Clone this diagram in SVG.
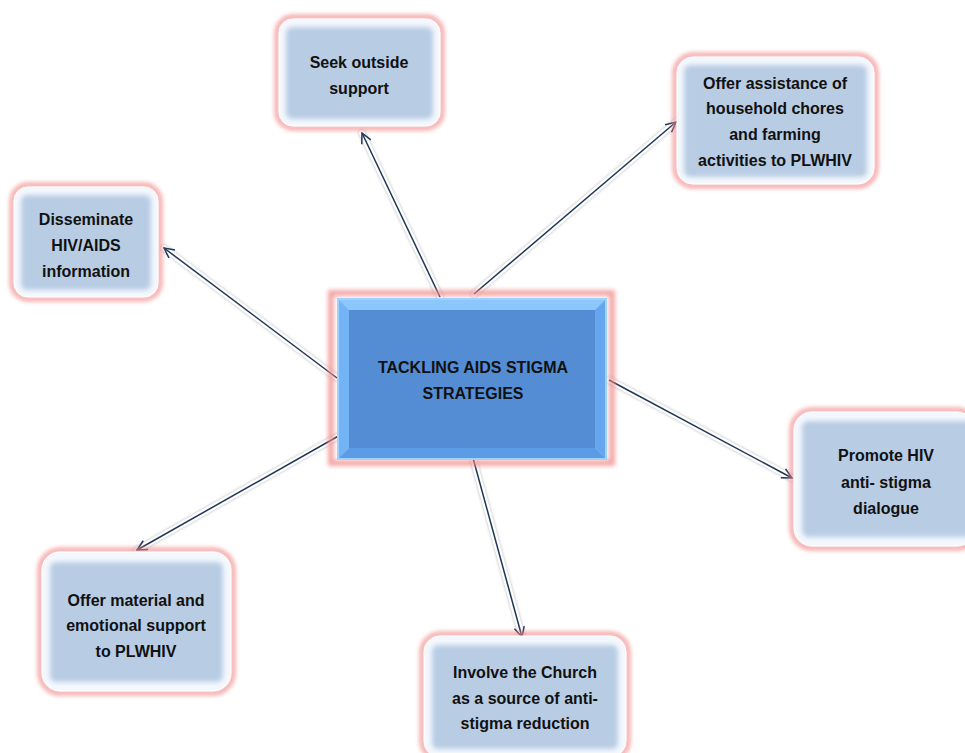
<svg xmlns="http://www.w3.org/2000/svg" width="965" height="753" viewBox="0 0 965 753">
  <defs>
    <style>
      .glow { fill: none; stroke: #f28a8a; stroke-width: 5; opacity: 0.75; filter: url(#soft); }
      .card { fill: #f4f8fd; stroke: #ffffff; stroke-width: 1; }
      .face { fill: #b8cce4; filter: url(#bevel); }
      .label { font-family: "Liberation Sans", Arial, sans-serif; font-weight: bold; font-size: 16px; fill: #111111; text-anchor: middle; }
      .halo { fill: none; stroke: #ffffff; stroke-width: 6; stroke-linecap: round; filter: url(#shade); }
      .link { fill: none; stroke: #1f3759; stroke-width: 1.5; marker-end: url(#head); }
    </style>
    <filter id="soft" x="-10%" y="-10%" width="120%" height="120%">
      <feGaussianBlur stdDeviation="2"/>
    </filter>
    <filter id="bevel" x="-10%" y="-10%" width="120%" height="120%">
      <feGaussianBlur stdDeviation="2.5"/>
    </filter>
    <filter id="shade" x="-20%" y="-20%" width="140%" height="140%">
      <feDropShadow dx="0" dy="0" stdDeviation="1.5" flood-color="#9a9a9a" flood-opacity="0.8"/>
    </filter>
    <marker id="head" viewBox="0 0 12 12" refX="11" refY="6" markerWidth="12" markerHeight="12" markerUnits="userSpaceOnUse" orient="auto">
      <path d="M1,1 L11,6 L1,11" fill="none" stroke="#1f3759" stroke-width="1.5"/>
    </marker>
  </defs>

  <rect width="965" height="753" fill="#ffffff"/>

  <!-- connectors from the central box to each strategy -->
  <g id="connectors">
    <path class="halo" d="M440,297 L362,133"/>
    <path class="link" d="M440,297 L362,133"/>
    <path class="halo" d="M474,294 L676,122"/>
    <path class="link" d="M474,294 L676,122"/>
    <path class="halo" d="M337,378 L164,248"/>
    <path class="link" d="M337,378 L164,248"/>
    <path class="halo" d="M609,380 L792,478"/>
    <path class="link" d="M609,380 L792,478"/>
    <path class="halo" d="M342,434 L137,550"/>
    <path class="link" d="M342,434 L137,550"/>
    <path class="halo" d="M473,458 L522,637"/>
    <path class="link" d="M473,458 L522,637"/>
  </g>

  <!-- central topic -->
  <g id="center">
    <rect x="331" y="293" width="281" height="170" fill="none" stroke="#f28a8a" stroke-width="6" opacity="0.75" filter="url(#soft)"/>
    <rect x="337" y="298" width="270" height="162" fill="#9fd2ff"/>
    <polygon points="339,300 605,300 595,310 349,310" fill="#8cc6fb"/>
    <polygon points="339,300 349,310 349,448 339,458" fill="#74b3f5"/>
    <polygon points="605,300 605,458 595,448 595,310" fill="#66a6ee"/>
    <polygon points="339,458 349,448 595,448 605,458" fill="#5c9ce6"/>
    <rect x="349" y="310" width="246" height="138" fill="#548dd4"/>
    <text class="label" font-size="15.5" x="473" y="373">TACKLING AIDS STIGMA</text>
    <text class="label" font-size="15.5" x="473" y="399">STRATEGIES</text>
  </g>

  <g id="seek-support">
    <rect class="glow" x="277" y="17" width="165" height="111" rx="16"/>
    <rect class="card" x="279" y="19" width="161" height="107" rx="14"/>
    <rect class="face" x="286" y="27" width="147" height="92" rx="6"/>
    <text class="label" x="359" y="68">Seek outside</text>
    <text class="label" x="359" y="94">support</text>
  </g>

  <g id="household-help">
    <rect class="glow" x="675" y="55" width="201" height="131" rx="18"/>
    <rect class="card" x="677" y="57" width="197" height="127" rx="16"/>
    <rect class="face" x="684" y="65" width="183" height="112" rx="6"/>
    <text class="label" x="775" y="89">Offer assistance of</text>
    <text class="label" x="775" y="114">household chores</text>
    <text class="label" x="775" y="140">and farming</text>
    <text class="label" x="775" y="166">activities to PLWHIV</text>
  </g>

  <g id="disseminate-info">
    <rect class="glow" x="12" y="185" width="148" height="114" rx="16"/>
    <rect class="card" x="14" y="187" width="144" height="110" rx="14"/>
    <rect class="face" x="21" y="195" width="130" height="95" rx="6"/>
    <text class="label" x="86" y="225">Disseminate</text>
    <text class="label" x="86" y="251">HIV/AIDS</text>
    <text class="label" x="86" y="277">information</text>
  </g>

  <g id="promote-dialogue">
    <rect class="glow" x="792" y="410" width="185" height="138" rx="20"/>
    <rect class="card" x="794" y="412" width="181" height="134" rx="18"/>
    <rect class="face" x="802" y="421" width="173" height="116" rx="6"/>
    <text class="label" x="886" y="461">Promote HIV</text>
    <text class="label" x="886" y="488">anti- stigma</text>
    <text class="label" x="886" y="514">dialogue</text>
  </g>

  <g id="material-support">
    <rect class="glow" x="40" y="550" width="193" height="143" rx="20"/>
    <rect class="card" x="42" y="552" width="189" height="139" rx="18"/>
    <rect class="face" x="50" y="562" width="173" height="120" rx="6"/>
    <text class="label" x="136" y="606">Offer material and</text>
    <text class="label" x="136" y="631">emotional support</text>
    <text class="label" x="136" y="657">to PLWHIV</text>
  </g>

  <g id="church-role">
    <rect class="glow" x="422" y="634" width="206" height="125" rx="18"/>
    <rect class="card" x="424" y="636" width="202" height="121" rx="16"/>
    <rect class="face" x="432" y="645" width="186" height="104" rx="6"/>
    <text class="label" x="525" y="678">Involve the Church</text>
    <text class="label" x="525" y="704">as a source of anti-</text>
    <text class="label" x="525" y="729">stigma reduction</text>
  </g>
</svg>
